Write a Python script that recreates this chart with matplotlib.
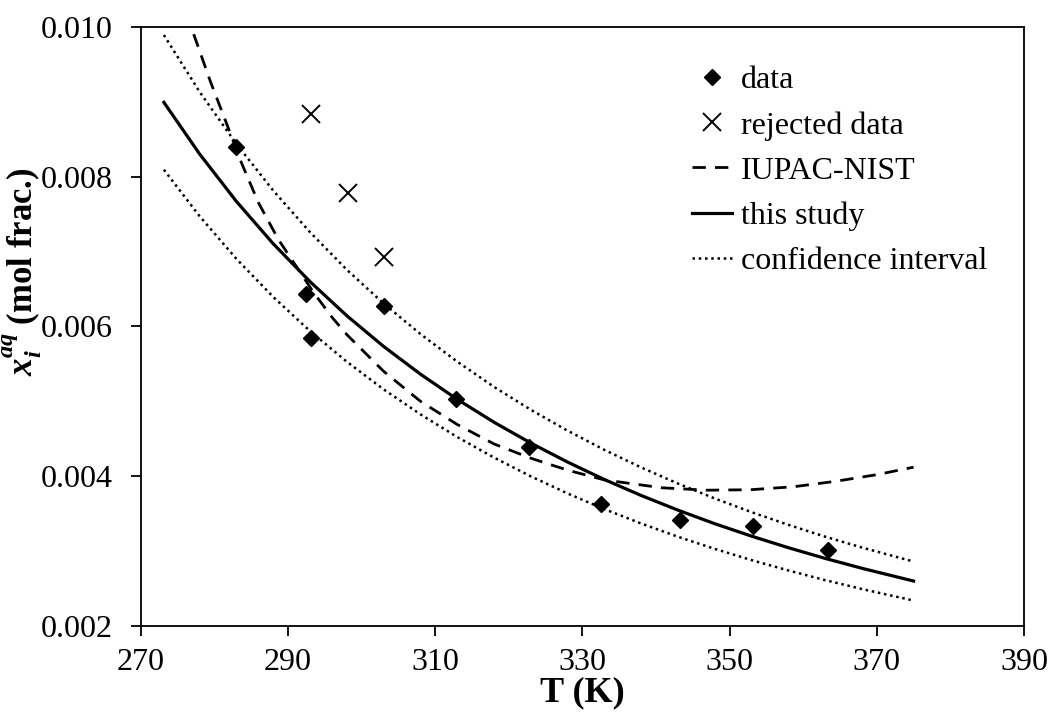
import matplotlib
matplotlib.use('Agg')
import matplotlib.pyplot as plt

plt.rcParams['font.family'] = ['Liberation Serif', 'DejaVu Serif']
plt.rcParams['mathtext.fontset'] = 'custom'
plt.rcParams['mathtext.rm'] = 'Liberation Serif'
plt.rcParams['mathtext.it'] = 'Liberation Serif:italic'
plt.rcParams['mathtext.bf'] = 'Liberation Serif:bold'
plt.rcParams['mathtext.bfit'] = 'Liberation Serif:italic:bold'

# measured solubilities
T_data = [283.0, 292.5, 293.1, 303.0, 312.9, 322.8, 332.6, 343.3, 353.2, 363.4]
x_data = [0.00840, 0.00643, 0.00585, 0.00627, 0.00503, 0.00439, 0.00363, 0.00342, 0.00334, 0.00301]

# points left out of the fit
T_rej = [293.1, 298.2, 303.1]
x_rej = [0.00884, 0.00778, 0.00693]

# IUPAC-NIST recommended curve
T_iupac = [277.2, 279.5, 281.5, 283.7, 286.0, 288.7, 291.0, 293.5, 296.0, 298.0, 303.0, 308.0,
           313.0, 318.0, 323.0, 328.0, 333.0, 340.8, 346.9, 352.8, 358.7, 364.3, 370.0, 375.0]
x_iupac = [0.00990, 0.00926, 0.00875, 0.00818, 0.00765, 0.00716, 0.00682, 0.00645, 0.00612, 0.00589,
           0.00540, 0.00500, 0.00469, 0.00443, 0.00424, 0.00408, 0.00395, 0.003845, 0.003813,
           0.003819, 0.003859, 0.00393, 0.00402, 0.00412]

# fitted curve and its confidence band
T_fit = [273.15, 278, 283, 288, 293, 298, 303, 308, 313, 318, 323, 328, 333, 338, 343,
         348, 353, 358, 363, 368, 375]
x_fit = [0.008990, 0.008301, 0.007668, 0.007103, 0.006597, 0.006142, 0.005732, 0.005362,
         0.005026, 0.004720, 0.004442, 0.004188, 0.003955, 0.003742, 0.003546, 0.003365,
         0.003199, 0.003045, 0.002902, 0.002770, 0.002600]
x_upper = [0.009889, 0.009131, 0.008435, 0.007813, 0.007257, 0.006756, 0.006305, 0.005898,
           0.005529, 0.005192, 0.004886, 0.004607, 0.004351, 0.004116, 0.003901, 0.003702,
           0.003519, 0.003350, 0.003192, 0.003047, 0.002860]
x_lower = [0.008091, 0.007471, 0.006901, 0.006393, 0.005937, 0.005528, 0.005159, 0.004826,
           0.004523, 0.004248, 0.003998, 0.003769, 0.003560, 0.003368, 0.003191, 0.003029,
           0.002879, 0.002741, 0.002612, 0.002493, 0.002340]

fig = plt.figure(figsize=(10.52, 7.18), dpi=100)
ax = fig.add_axes([140.7 / 1052, 1 - 626 / 718, (1024 - 140.7) / 1052, (626 - 26.7) / 718])

dot = (0, (1, 1.5))
ax.plot(T_data, x_data, 'D', color='black', ms=8.5, ls='none', label='data', zorder=5)
ax.plot(T_rej, x_rej, 'x', color='black', ms=13, mew=1.4, ls='none', label='rejected data', zorder=5)
ax.plot(T_iupac, x_iupac, color='black', lw=2.0, ls=(0, (4.8, 3.3)), label='IUPAC-NIST')
ax.plot(T_fit, x_fit, color='black', lw=2.3, label='this study')
ax.plot(T_fit, x_upper, color='black', lw=1.8, ls=dot, label='confidence interval')
ax.plot(T_fit, x_lower, color='black', lw=1.8, ls=dot)

ax.set_xlim(270, 390)
ax.set_ylim(0.002, 0.010)
ax.set_xticks([270, 290, 310, 330, 350, 370, 390])
ax.set_yticks([0.002, 0.004, 0.006, 0.008, 0.010])
ax.set_yticklabels(['0.002', '0.004', '0.006', '0.008', '0.010'])

for s in ax.spines.values():
    s.set_linewidth(1.3)
ax.tick_params(axis='both', direction='out', length=7, width=1.3, labelsize=23)
ax.tick_params(axis='y', pad=13)
ax.tick_params(axis='x', pad=9)

fig.text(582 / 1052, 1 - 693 / 718, 'T (K)', fontsize=26, fontweight='bold',
         ha='center', va='center')
fig.text(22 / 1052, 1 - 272 / 718, r'$\mathbfit{x}_{\mathbfit{i}}^{\mathbfit{aq}}$ (mol frac.)',
         fontsize=25, fontweight='bold', rotation=90, ha='center', va='center')

ax.legend(loc='upper left', bbox_to_anchor=(692 / 1052, 1 - 66 / 718),
          bbox_transform=fig.transFigure, frameon=False, fontsize=23,
          handlelength=1.25, handletextpad=0.27, labelspacing=0.49, borderpad=0, borderaxespad=0)

fig.savefig('out.png', dpi=100)
